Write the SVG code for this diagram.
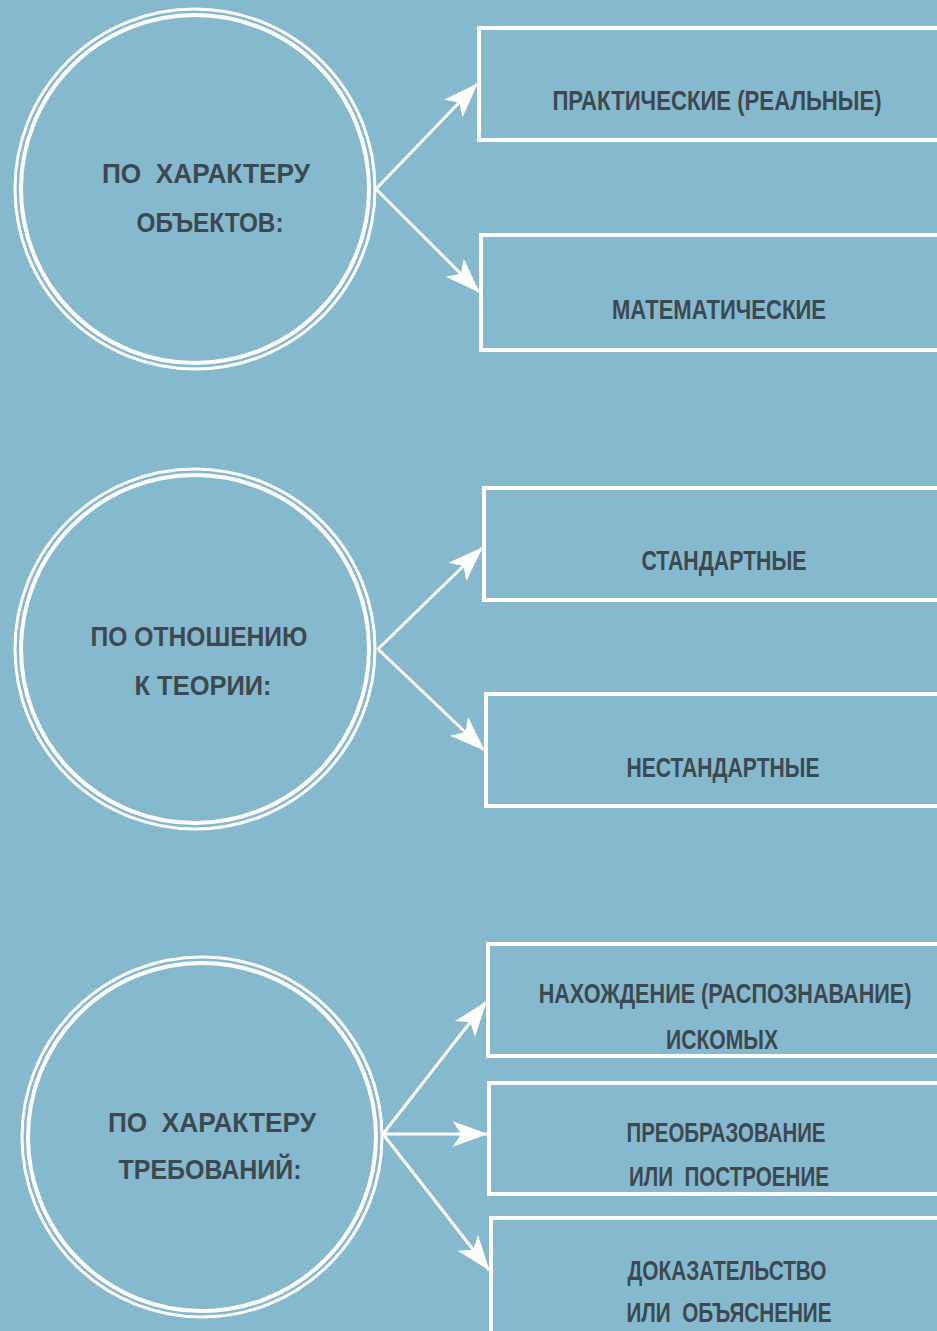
<svg xmlns="http://www.w3.org/2000/svg" width="937" height="1331" viewBox="0 0 937 1331">
<defs>
<style>
.bg{fill:#86b9ce}
.ring{fill:none;stroke:#ffffff}
.o{stroke-width:3}
.i{stroke-width:4}
.box{fill:none;stroke:#ffffff;stroke-width:4}
.t{font-family:"Liberation Sans",Arial,sans-serif;font-weight:bold;font-size:28px;fill:#3d4950;text-anchor:middle;white-space:pre}
.c{stroke:#ffffff;stroke-width:3;fill:none;marker-end:url(#ah)}
</style>
<marker id="ah" markerUnits="userSpaceOnUse" markerWidth="40" markerHeight="30" viewBox="-34 -14 36 28" refX="0" refY="0" orient="auto">
<path d="M1,0 L-32,-12 L-24,0 L-32,12 Z" fill="#ffffff"/>
</marker>
</defs>
<rect class="bg" x="0" y="0" width="937" height="1331"/>

<g id="connectors">
<line class="c" x1="376" y1="189" x2="477" y2="84"/>
<line class="c" x1="376" y1="189" x2="479" y2="292"/>
<line class="c" x1="378" y1="649" x2="482" y2="548"/>
<line class="c" x1="378" y1="649" x2="484" y2="750"/>
<line class="c" x1="383" y1="1134" x2="486" y2="1002"/>
<line class="c" x1="383" y1="1134" x2="487" y2="1134"/>
<line class="c" x1="383" y1="1134" x2="489" y2="1270"/>
</g>

<g id="c1">
<circle class="ring o" cx="195" cy="189" r="180"/>
<circle class="ring i" cx="195" cy="189" r="174"/>
<text class="t" x="206" y="183" textLength="208" lengthAdjust="spacingAndGlyphs" xml:space="preserve">ПО  ХАРАКТЕРУ</text>
<text class="t" x="210" y="232" textLength="147" lengthAdjust="spacingAndGlyphs">ОБЪЕКТОВ:</text>
</g>
<g id="b1">
<rect class="box" x="479" y="28" width="470" height="112"/>
<text class="t" transform="translate(717,110) scale(0.75,1)" x="0" y="0" textLength="439" lengthAdjust="spacingAndGlyphs">ПРАКТИЧЕСКИЕ (РЕАЛЬНЫЕ)</text>
</g>
<g id="b2">
<rect class="box" x="481" y="235" width="470" height="115"/>
<text class="t" x="719" y="319" textLength="214" lengthAdjust="spacingAndGlyphs">МАТЕМАТИЧЕСКИЕ</text>
</g>

<g id="c2">
<circle class="ring o" cx="195" cy="649" r="180"/>
<circle class="ring i" cx="195" cy="649" r="174"/>
<text class="t" x="199" y="646" textLength="217" lengthAdjust="spacingAndGlyphs">ПО ОТНОШЕНИЮ</text>
<text class="t" x="203" y="695" textLength="137" lengthAdjust="spacingAndGlyphs">К ТЕОРИИ:</text>
</g>
<g id="b3">
<rect class="box" x="484" y="488" width="470" height="112"/>
<text class="t" x="724" y="570" textLength="165" lengthAdjust="spacingAndGlyphs">СТАНДАРТНЫЕ</text>
</g>
<g id="b4">
<rect class="box" x="486" y="694" width="470" height="112"/>
<text class="t" x="723" y="777" textLength="193" lengthAdjust="spacingAndGlyphs">НЕСТАНДАРТНЫЕ</text>
</g>

<g id="c3">
<circle class="ring o" cx="202" cy="1137" r="180"/>
<circle class="ring i" cx="202" cy="1137" r="174"/>
<text class="t" x="212" y="1132" textLength="208" lengthAdjust="spacingAndGlyphs" xml:space="preserve">ПО  ХАРАКТЕРУ</text>
<text class="t" x="210" y="1179" textLength="183" lengthAdjust="spacingAndGlyphs">ТРЕБОВАНИЙ:</text>
</g>
<g id="b5">
<rect class="box" x="488" y="944" width="470" height="112"/>
<text class="t" transform="translate(725,1003) scale(0.75,1)" x="0" y="0" textLength="497" lengthAdjust="spacingAndGlyphs">НАХОЖДЕНИЕ (РАСПОЗНАВАНИЕ)</text>
<text class="t" x="722" y="1049" textLength="112" lengthAdjust="spacingAndGlyphs">ИСКОМЫХ</text>
</g>
<g id="b6">
<rect class="box" x="489" y="1083" width="470" height="111"/>
<text class="t" x="726" y="1142" textLength="199" lengthAdjust="spacingAndGlyphs">ПРЕОБРАЗОВАНИЕ</text>
<text class="t" x="729" y="1186" textLength="200" lengthAdjust="spacingAndGlyphs" xml:space="preserve">ИЛИ  ПОСТРОЕНИЕ</text>
</g>
<g id="b7">
<rect class="box" x="491" y="1218" width="470" height="130"/>
<text class="t" x="727" y="1280" textLength="199" lengthAdjust="spacingAndGlyphs">ДОКАЗАТЕЛЬСТВО</text>
<text class="t" x="729" y="1322" textLength="205" lengthAdjust="spacingAndGlyphs" xml:space="preserve">ИЛИ  ОБЪЯСНЕНИЕ</text>
</g>
</svg>
